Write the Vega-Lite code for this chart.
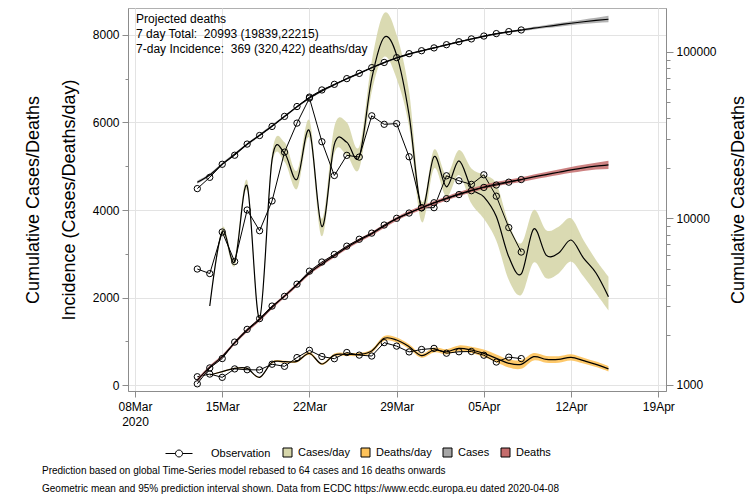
{
  "$schema": "https://vega.github.io/schema/vega-lite/v6.json",
  "width": 538,
  "height": 383,
  "autosize": "none",
  "padding": {"left": 128, "top": 8, "right": 83, "bottom": 103},
  "background": "white",
  "config": {
    "font": "Liberation Sans",
    "view": {"stroke": "#b0b0b0", "strokeWidth": 1},
    "axis": {
      "labelFont": "Liberation Sans", "titleFont": "Liberation Sans",
      "labelFontSize": 12, "labelColor": "black", "titleColor": "black",
      "titleFontWeight": "normal", "domainColor": "#8c8c8c", "tickColor": "#8c8c8c",
      "gridColor": "#e3e3e3"
    },
    "legend": {"labelFont": "Liberation Sans", "labelFontSize": 11, "labelColor": "black"}
  },
  "title": {
    "text": [
      "Prediction based on global Time-Series model rebased to 64 cases and 16 deaths onwards",
      "Geometric mean and 95% prediction interval shown. Data from ECDC https://www.ecdc.europa.eu dated 2020-04-08"
    ],
    "orient": "bottom", "anchor": "start", "frame": "group",
    "font": "Liberation Sans", "fontSize": 10, "fontWeight": "normal",
    "lineHeight": 18, "dx": -86, "offset": 6, "color": "black"
  },
  "datasets": {
    "obs_daily": [
      {"d":"2020-03-13T00:00","s":"Cases/day","v":2651},{"d":"2020-03-14T00:00","s":"Cases/day","v":2547},{"d":"2020-03-15T00:00","s":"Cases/day","v":3497},{"d":"2020-03-16T00:00","s":"Cases/day","v":2823},{"d":"2020-03-17T00:00","s":"Cases/day","v":4000},{"d":"2020-03-18T00:00","s":"Cases/day","v":3526},{"d":"2020-03-19T00:00","s":"Cases/day","v":4207},{"d":"2020-03-20T00:00","s":"Cases/day","v":5322},{"d":"2020-03-21T00:00","s":"Cases/day","v":5986},{"d":"2020-03-22T00:00","s":"Cases/day","v":6557},{"d":"2020-03-23T00:00","s":"Cases/day","v":5560},{"d":"2020-03-24T00:00","s":"Cases/day","v":4789},{"d":"2020-03-25T00:00","s":"Cases/day","v":5249},{"d":"2020-03-26T00:00","s":"Cases/day","v":5210},{"d":"2020-03-27T00:00","s":"Cases/day","v":6153},{"d":"2020-03-28T00:00","s":"Cases/day","v":5959},{"d":"2020-03-29T00:00","s":"Cases/day","v":5974},{"d":"2020-03-30T00:00","s":"Cases/day","v":5217},{"d":"2020-03-31T00:00","s":"Cases/day","v":4050},{"d":"2020-04-01T00:00","s":"Cases/day","v":4053},{"d":"2020-04-02T00:00","s":"Cases/day","v":4782},{"d":"2020-04-03T00:00","s":"Cases/day","v":4668},{"d":"2020-04-04T00:00","s":"Cases/day","v":4585},{"d":"2020-04-05T00:00","s":"Cases/day","v":4805},{"d":"2020-04-06T00:00","s":"Cases/day","v":4316},{"d":"2020-04-07T00:00","s":"Cases/day","v":3599},{"d":"2020-04-08T00:00","s":"Cases/day","v":3039},
      {"d":"2020-03-13T00:00","s":"Deaths/day","v":189},{"d":"2020-03-14T00:00","s":"Deaths/day","v":250},{"d":"2020-03-15T00:00","s":"Deaths/day","v":175},{"d":"2020-03-16T00:00","s":"Deaths/day","v":368},{"d":"2020-03-17T00:00","s":"Deaths/day","v":349},{"d":"2020-03-18T00:00","s":"Deaths/day","v":345},{"d":"2020-03-19T00:00","s":"Deaths/day","v":475},{"d":"2020-03-20T00:00","s":"Deaths/day","v":427},{"d":"2020-03-21T00:00","s":"Deaths/day","v":627},{"d":"2020-03-22T00:00","s":"Deaths/day","v":793},{"d":"2020-03-23T00:00","s":"Deaths/day","v":651},{"d":"2020-03-24T00:00","s":"Deaths/day","v":601},{"d":"2020-03-25T00:00","s":"Deaths/day","v":743},{"d":"2020-03-26T00:00","s":"Deaths/day","v":683},{"d":"2020-03-27T00:00","s":"Deaths/day","v":662},{"d":"2020-03-28T00:00","s":"Deaths/day","v":969},{"d":"2020-03-29T00:00","s":"Deaths/day","v":889},{"d":"2020-03-30T00:00","s":"Deaths/day","v":756},{"d":"2020-03-31T00:00","s":"Deaths/day","v":812},{"d":"2020-04-01T00:00","s":"Deaths/day","v":837},{"d":"2020-04-02T00:00","s":"Deaths/day","v":727},{"d":"2020-04-03T00:00","s":"Deaths/day","v":760},{"d":"2020-04-04T00:00","s":"Deaths/day","v":766},{"d":"2020-04-05T00:00","s":"Deaths/day","v":681},{"d":"2020-04-06T00:00","s":"Deaths/day","v":525},{"d":"2020-04-07T00:00","s":"Deaths/day","v":636},{"d":"2020-04-08T00:00","s":"Deaths/day","v":604}
    ],
    "obs_cum": [
      {"d":"2020-03-13T00:00","s":"Cases","v":15113},{"d":"2020-03-14T00:00","s":"Cases","v":17660},{"d":"2020-03-15T00:00","s":"Cases","v":21157},{"d":"2020-03-16T00:00","s":"Cases","v":23980},{"d":"2020-03-17T00:00","s":"Cases","v":27980},{"d":"2020-03-18T00:00","s":"Cases","v":31506},{"d":"2020-03-19T00:00","s":"Cases","v":35713},{"d":"2020-03-20T00:00","s":"Cases","v":41035},{"d":"2020-03-21T00:00","s":"Cases","v":47021},{"d":"2020-03-22T00:00","s":"Cases","v":53578},{"d":"2020-03-23T00:00","s":"Cases","v":59138},{"d":"2020-03-24T00:00","s":"Cases","v":63927},{"d":"2020-03-25T00:00","s":"Cases","v":69176},{"d":"2020-03-26T00:00","s":"Cases","v":74386},{"d":"2020-03-27T00:00","s":"Cases","v":80539},{"d":"2020-03-28T00:00","s":"Cases","v":86498},{"d":"2020-03-29T00:00","s":"Cases","v":92472},{"d":"2020-03-30T00:00","s":"Cases","v":97689},{"d":"2020-03-31T00:00","s":"Cases","v":101739},{"d":"2020-04-01T00:00","s":"Cases","v":105792},{"d":"2020-04-02T00:00","s":"Cases","v":110574},{"d":"2020-04-03T00:00","s":"Cases","v":115242},{"d":"2020-04-04T00:00","s":"Cases","v":119827},{"d":"2020-04-05T00:00","s":"Cases","v":124632},{"d":"2020-04-06T00:00","s":"Cases","v":128948},{"d":"2020-04-07T00:00","s":"Cases","v":132547},{"d":"2020-04-08T00:00","s":"Cases","v":135586},
      {"d":"2020-03-13T00:00","s":"Deaths","v":1016},{"d":"2020-03-14T00:00","s":"Deaths","v":1266},{"d":"2020-03-15T00:00","s":"Deaths","v":1441},{"d":"2020-03-16T00:00","s":"Deaths","v":1809},{"d":"2020-03-17T00:00","s":"Deaths","v":2158},{"d":"2020-03-18T00:00","s":"Deaths","v":2503},{"d":"2020-03-19T00:00","s":"Deaths","v":2978},{"d":"2020-03-20T00:00","s":"Deaths","v":3405},{"d":"2020-03-21T00:00","s":"Deaths","v":4032},{"d":"2020-03-22T00:00","s":"Deaths","v":4825},{"d":"2020-03-23T00:00","s":"Deaths","v":5476},{"d":"2020-03-24T00:00","s":"Deaths","v":6077},{"d":"2020-03-25T00:00","s":"Deaths","v":6820},{"d":"2020-03-26T00:00","s":"Deaths","v":7503},{"d":"2020-03-27T00:00","s":"Deaths","v":8165},{"d":"2020-03-28T00:00","s":"Deaths","v":9134},{"d":"2020-03-29T00:00","s":"Deaths","v":10023},{"d":"2020-03-30T00:00","s":"Deaths","v":10779},{"d":"2020-03-31T00:00","s":"Deaths","v":11591},{"d":"2020-04-01T00:00","s":"Deaths","v":12428},{"d":"2020-04-02T00:00","s":"Deaths","v":13155},{"d":"2020-04-03T00:00","s":"Deaths","v":13915},{"d":"2020-04-04T00:00","s":"Deaths","v":14681},{"d":"2020-04-05T00:00","s":"Deaths","v":15362},{"d":"2020-04-06T00:00","s":"Deaths","v":15887},{"d":"2020-04-07T00:00","s":"Deaths","v":16523},{"d":"2020-04-08T00:00","s":"Deaths","v":17127}
    ],
    "mod_daily": [
      {"d":"2020-03-14T00:00","s":"Cases/day","m":1806,"lo":1780,"hi":1830},{"d":"2020-03-15T00:00","s":"Cases/day","m":3504,"lo":3420,"hi":3600},{"d":"2020-03-16T00:00","s":"Cases/day","m":2819,"lo":2720,"hi":2900},{"d":"2020-03-17T00:00","s":"Cases/day","m":4549,"lo":4450,"hi":4680},{"d":"2020-03-18T00:00","s":"Cases/day","m":1530,"lo":1480,"hi":1580},{"d":"2020-03-19T00:00","s":"Cases/day","m":5150,"lo":5020,"hi":5300},{"d":"2020-03-20T00:00","s":"Cases/day","m":5300,"lo":5100,"hi":5550},{"d":"2020-03-21T00:00","s":"Cases/day","m":4700,"lo":4480,"hi":4900},{"d":"2020-03-22T00:00","s":"Cases/day","m":5813,"lo":5650,"hi":6050},{"d":"2020-03-23T00:00","s":"Cases/day","m":3620,"lo":3400,"hi":3800},{"d":"2020-03-24T00:00","s":"Cases/day","m":5500,"lo":5300,"hi":5900},{"d":"2020-03-25T00:00","s":"Cases/day","m":5550,"lo":5250,"hi":6000},{"d":"2020-03-26T00:00","s":"Cases/day","m":5220,"lo":4950,"hi":5450},{"d":"2020-03-27T00:00","s":"Cases/day","m":7000,"lo":6700,"hi":7400},{"d":"2020-03-28T00:00","s":"Cases/day","m":7947,"lo":7500,"hi":8500},{"d":"2020-03-29T00:00","s":"Cases/day","m":7540,"lo":7000,"hi":8000},{"d":"2020-03-30T00:00","s":"Cases/day","m":6170,"lo":5900,"hi":6700},{"d":"2020-03-31T00:00","s":"Cases/day","m":4040,"lo":3730,"hi":4200},{"d":"2020-04-01T00:00","s":"Cases/day","m":5220,"lo":4950,"hi":5380},{"d":"2020-04-02T00:00","s":"Cases/day","m":4530,"lo":4300,"hi":4800},{"d":"2020-04-03T00:00","s":"Cases/day","m":5125,"lo":4800,"hi":5370},{"d":"2020-04-04T00:00","s":"Cases/day","m":4500,"lo":4150,"hi":4950},{"d":"2020-04-05T00:00","s":"Cases/day","m":4300,"lo":3800,"hi":4800},{"d":"2020-04-06T00:00","s":"Cases/day","m":3850,"lo":3300,"hi":4600},{"d":"2020-04-07T00:00","s":"Cases/day","m":2930,"lo":2400,"hi":3700},{"d":"2020-04-08T00:00","s":"Cases/day","m":2540,"lo":2060,"hi":3240},{"d":"2020-04-09T00:00","s":"Cases/day","m":3566,"lo":2800,"hi":4000},{"d":"2020-04-10T00:00","s":"Cases/day","m":2970,"lo":2440,"hi":3540},{"d":"2020-04-11T00:00","s":"Cases/day","m":3017,"lo":2550,"hi":3620},{"d":"2020-04-12T00:00","s":"Cases/day","m":3314,"lo":2820,"hi":3810},{"d":"2020-04-13T00:00","s":"Cases/day","m":2900,"lo":2480,"hi":3310},{"d":"2020-04-14T00:00","s":"Cases/day","m":2560,"lo":2100,"hi":2860},{"d":"2020-04-15T00:00","s":"Cases/day","m":2018,"lo":1710,"hi":2480},
      {"d":"2020-03-14T00:00","s":"Deaths/day","m":228,"lo":215,"hi":240},{"d":"2020-03-15T00:00","s":"Deaths/day","m":305,"lo":290,"hi":320},{"d":"2020-03-16T00:00","s":"Deaths/day","m":381,"lo":365,"hi":395},{"d":"2020-03-17T00:00","s":"Deaths/day","m":381,"lo":365,"hi":395},{"d":"2020-03-18T00:00","s":"Deaths/day","m":174,"lo":160,"hi":190},{"d":"2020-03-19T00:00","s":"Deaths/day","m":518,"lo":500,"hi":540},{"d":"2020-03-20T00:00","s":"Deaths/day","m":533,"lo":510,"hi":555},{"d":"2020-03-21T00:00","s":"Deaths/day","m":540,"lo":515,"hi":565},{"d":"2020-03-22T00:00","s":"Deaths/day","m":720,"lo":690,"hi":755},{"d":"2020-03-23T00:00","s":"Deaths/day","m":480,"lo":455,"hi":505},{"d":"2020-03-24T00:00","s":"Deaths/day","m":686,"lo":655,"hi":720},{"d":"2020-03-25T00:00","s":"Deaths/day","m":700,"lo":665,"hi":735},{"d":"2020-03-26T00:00","s":"Deaths/day","m":700,"lo":665,"hi":735},{"d":"2020-03-27T00:00","s":"Deaths/day","m":780,"lo":740,"hi":820},{"d":"2020-03-28T00:00","s":"Deaths/day","m":1067,"lo":1010,"hi":1120},{"d":"2020-03-29T00:00","s":"Deaths/day","m":1029,"lo":975,"hi":1085},{"d":"2020-03-30T00:00","s":"Deaths/day","m":876,"lo":825,"hi":930},{"d":"2020-03-31T00:00","s":"Deaths/day","m":670,"lo":625,"hi":715},{"d":"2020-04-01T00:00","s":"Deaths/day","m":800,"lo":745,"hi":855},{"d":"2020-04-02T00:00","s":"Deaths/day","m":760,"lo":700,"hi":820},{"d":"2020-04-03T00:00","s":"Deaths/day","m":838,"lo":770,"hi":905},{"d":"2020-04-04T00:00","s":"Deaths/day","m":800,"lo":730,"hi":875},{"d":"2020-04-05T00:00","s":"Deaths/day","m":724,"lo":640,"hi":810},{"d":"2020-04-06T00:00","s":"Deaths/day","m":610,"lo":520,"hi":700},{"d":"2020-04-07T00:00","s":"Deaths/day","m":496,"lo":400,"hi":590},{"d":"2020-04-08T00:00","s":"Deaths/day","m":473,"lo":370,"hi":570},{"d":"2020-04-09T00:00","s":"Deaths/day","m":647,"lo":560,"hi":730},{"d":"2020-04-10T00:00","s":"Deaths/day","m":587,"lo":510,"hi":665},{"d":"2020-04-11T00:00","s":"Deaths/day","m":587,"lo":510,"hi":660},{"d":"2020-04-12T00:00","s":"Deaths/day","m":633,"lo":560,"hi":705},{"d":"2020-04-13T00:00","s":"Deaths/day","m":556,"lo":490,"hi":625},{"d":"2020-04-14T00:00","s":"Deaths/day","m":473,"lo":410,"hi":535},{"d":"2020-04-15T00:00","s":"Deaths/day","m":370,"lo":310,"hi":430}
    ],
    "mod_cum": [
      {"d":"2020-03-13T00:00","s":"Cases","m":16500,"lo":16150,"hi":16850},{"d":"2020-03-14T00:00","s":"Cases","m":18250,"lo":17900,"hi":18600},{"d":"2020-03-15T00:00","s":"Cases","m":21200,"lo":20800,"hi":21600},{"d":"2020-03-16T00:00","s":"Cases","m":24300,"lo":23850,"hi":24750},{"d":"2020-03-17T00:00","s":"Cases","m":27900,"lo":27400,"hi":28400},{"d":"2020-03-18T00:00","s":"Cases","m":31600,"lo":31050,"hi":32150},{"d":"2020-03-19T00:00","s":"Cases","m":35900,"lo":35300,"hi":36500},{"d":"2020-03-20T00:00","s":"Cases","m":41000,"lo":40350,"hi":41650},{"d":"2020-03-21T00:00","s":"Cases","m":46800,"lo":46100,"hi":47500},{"d":"2020-03-22T00:00","s":"Cases","m":52900,"lo":52100,"hi":53700},{"d":"2020-03-23T00:00","s":"Cases","m":58400,"lo":57550,"hi":59250},{"d":"2020-03-24T00:00","s":"Cases","m":63600,"lo":62700,"hi":64500},{"d":"2020-03-25T00:00","s":"Cases","m":69000,"lo":68050,"hi":69950},{"d":"2020-03-26T00:00","s":"Cases","m":74500,"lo":73500,"hi":75500},{"d":"2020-03-27T00:00","s":"Cases","m":80400,"lo":79300,"hi":81500},{"d":"2020-03-28T00:00","s":"Cases","m":86300,"lo":85150,"hi":87450},{"d":"2020-03-29T00:00","s":"Cases","m":92000,"lo":90800,"hi":93200},{"d":"2020-03-30T00:00","s":"Cases","m":97100,"lo":95850,"hi":98350},{"d":"2020-03-31T00:00","s":"Cases","m":101500,"lo":100200,"hi":102800},{"d":"2020-04-01T00:00","s":"Cases","m":105800,"lo":104450,"hi":107150},{"d":"2020-04-02T00:00","s":"Cases","m":110400,"lo":109000,"hi":111800},{"d":"2020-04-03T00:00","s":"Cases","m":115000,"lo":113550,"hi":116450},{"d":"2020-04-04T00:00","s":"Cases","m":119600,"lo":118100,"hi":121100},{"d":"2020-04-05T00:00","s":"Cases","m":124100,"lo":122550,"hi":125650},{"d":"2020-04-06T00:00","s":"Cases","m":128300,"lo":126700,"hi":129900},{"d":"2020-04-07T00:00","s":"Cases","m":132000,"lo":130350,"hi":133650},{"d":"2020-04-08T00:00","s":"Cases","m":135200,"lo":133200,"hi":137200},{"d":"2020-04-09T00:00","s":"Cases","m":139000,"lo":136500,"hi":141600},{"d":"2020-04-10T00:00","s":"Cases","m":142200,"lo":139200,"hi":145300},{"d":"2020-04-11T00:00","s":"Cases","m":145400,"lo":141800,"hi":149100},{"d":"2020-04-12T00:00","s":"Cases","m":148800,"lo":144600,"hi":153000},{"d":"2020-04-13T00:00","s":"Cases","m":151900,"lo":147000,"hi":156900},{"d":"2020-04-14T00:00","s":"Cases","m":154700,"lo":149200,"hi":160300},{"d":"2020-04-15T00:00","s":"Cases","m":157300,"lo":150700,"hi":165000},
      {"d":"2020-03-13T00:00","s":"Deaths","m":1070,"lo":1045,"hi":1095},{"d":"2020-03-14T00:00","s":"Deaths","m":1280,"lo":1250,"hi":1310},{"d":"2020-03-15T00:00","s":"Deaths","m":1480,"lo":1445,"hi":1515},{"d":"2020-03-16T00:00","s":"Deaths","m":1790,"lo":1748,"hi":1832},{"d":"2020-03-17T00:00","s":"Deaths","m":2130,"lo":2080,"hi":2180},{"d":"2020-03-18T00:00","s":"Deaths","m":2470,"lo":2410,"hi":2530},{"d":"2020-03-19T00:00","s":"Deaths","m":2930,"lo":2860,"hi":3000},{"d":"2020-03-20T00:00","s":"Deaths","m":3420,"lo":3340,"hi":3500},{"d":"2020-03-21T00:00","s":"Deaths","m":4000,"lo":3905,"hi":4095},{"d":"2020-03-22T00:00","s":"Deaths","m":4700,"lo":4590,"hi":4810},{"d":"2020-03-23T00:00","s":"Deaths","m":5330,"lo":5200,"hi":5460},{"d":"2020-03-24T00:00","s":"Deaths","m":5980,"lo":5835,"hi":6125},{"d":"2020-03-25T00:00","s":"Deaths","m":6700,"lo":6535,"hi":6865},{"d":"2020-03-26T00:00","s":"Deaths","m":7400,"lo":7220,"hi":7580},{"d":"2020-03-27T00:00","s":"Deaths","m":8100,"lo":7900,"hi":8300},{"d":"2020-03-28T00:00","s":"Deaths","m":9000,"lo":8780,"hi":9220},{"d":"2020-03-29T00:00","s":"Deaths","m":9950,"lo":9700,"hi":10200},{"d":"2020-03-30T00:00","s":"Deaths","m":10800,"lo":10520,"hi":11080},{"d":"2020-03-31T00:00","s":"Deaths","m":11600,"lo":11290,"hi":11910},{"d":"2020-04-01T00:00","s":"Deaths","m":12400,"lo":12060,"hi":12740},{"d":"2020-04-02T00:00","s":"Deaths","m":13200,"lo":12830,"hi":13570},{"d":"2020-04-03T00:00","s":"Deaths","m":14000,"lo":13600,"hi":14400},{"d":"2020-04-04T00:00","s":"Deaths","m":14760,"lo":14330,"hi":15190},{"d":"2020-04-05T00:00","s":"Deaths","m":15460,"lo":15000,"hi":15920},{"d":"2020-04-06T00:00","s":"Deaths","m":16100,"lo":15610,"hi":16590},{"d":"2020-04-07T00:00","s":"Deaths","m":16620,"lo":16100,"hi":17140},{"d":"2020-04-08T00:00","s":"Deaths","m":17120,"lo":16570,"hi":17680},{"d":"2020-04-09T00:00","s":"Deaths","m":17770,"lo":17170,"hi":18380},{"d":"2020-04-10T00:00","s":"Deaths","m":18360,"lo":17700,"hi":19030},{"d":"2020-04-11T00:00","s":"Deaths","m":18950,"lo":18230,"hi":19690},{"d":"2020-04-12T00:00","s":"Deaths","m":19580,"lo":18790,"hi":20390},{"d":"2020-04-13T00:00","s":"Deaths","m":20140,"lo":19280,"hi":21020},{"d":"2020-04-14T00:00","s":"Deaths","m":20610,"lo":19680,"hi":21590},{"d":"2020-04-15T00:00","s":"Deaths","m":20990,"lo":19839,"hi":22215}
    ]
  },
  "layer": [
    {
      "resolve": {"axis": {"y": "independent"}},
      "layer": [
        {
          "data": {"name": "mod_daily"},
          "mark": {"type": "area", "interpolate": "cardinal", "opacity": 0.9},
          "encoding": {
            "x": {
              "field": "d", "type": "temporal",
              "scale": {"domain": [{"year":2020,"month":3,"date":7,"hours":10,"minutes":30},{"year":2020,"month":4,"date":19,"hours":14,"minutes":50}]},
              "axis": {
                "title": null,
                "values": [{"year":2020,"month":3,"date":8},{"year":2020,"month":3,"date":15},{"year":2020,"month":3,"date":22},{"year":2020,"month":3,"date":29},{"year":2020,"month":4,"date":5},{"year":2020,"month":4,"date":12},{"year":2020,"month":4,"date":19}],
                "format": "%d%b",
                "labelExpr": "(month(datum.value) == 2 && date(datum.value) == 8) ? [timeFormat(datum.value, '%d%b'), '2020'] : timeFormat(datum.value, '%d%b')",
                "labelLineHeight": 15, "labelOverlap": false, "labelFlush": false,
                "grid": true, "tickSize": 6, "labelPadding": 4
              }
            },
            "y": {
              "field": "lo", "type": "quantitative",
              "scale": {"domain": [-137, 8617], "nice": false, "zero": false},
              "axis": {
                "orient": "left",
                "values": [0,2000,4000,6000,8000],
                "format": "d", "tickSize": 6, "grid": true, "labelPadding": 3,
                "title": ["Cumulative Cases/Deaths", "Incidence (Cases/Deaths/day)"],
                "titleFontSize": 18, "titleLineHeight": 36, "titlePadding": 14
              }
            },
            "y2": {"field": "hi"},
            "color": {
              "field": "s", "type": "nominal",
              "scale": {"domain": ["Cases/day","Deaths/day","Cases","Deaths"], "range": ["#d6d6aa","#fdc25a","#a6a6a6","#c46c6c"]},
              "legend": {
                "orient": "none", "legendX": 154, "legendY": 439, "direction": "horizontal",
                "title": null, "symbolType": "square", "symbolSize": 81, "symbolStrokeColor": "black", "symbolStrokeWidth": 1, "symbolOpacity": 1,
                "labelOffset": 5, "columnPadding": 9, "labelFontSize": 11
              }
            }
          }
        },
        {
          "data": {"name": "mod_daily"},
          "mark": {"type": "line", "interpolate": "cardinal", "color": "black", "strokeWidth": 1.2},
          "encoding": {
            "x": {"field": "d", "type": "temporal"},
            "y": {
              "field": "m", "type": "quantitative",
              "scale": {"domain": [-137, 8617], "nice": false, "zero": false},
              "axis": {"orient": "left", "values": [1000,3000,5000,7000], "labels": false, "domain": false, "grid": false, "tickSize": 3, "title": null}
            },
            "detail": {"field": "s"}
          }
        },
        {
          "data": {"name": "obs_daily"},
          "mark": {"type": "line", "color": "black", "strokeWidth": 1},
          "encoding": {
            "x": {"field": "d", "type": "temporal"},
            "y": {"field": "v", "type": "quantitative", "scale": {"domain": [-137, 8617], "nice": false, "zero": false}, "axis": null},
            "detail": {"field": "s"}
          }
        },
        {
          "data": {"name": "obs_daily"},
          "mark": {"type": "point", "shape": "circle", "filled": false, "color": "black", "strokeWidth": 1, "size": 40},
          "encoding": {
            "x": {"field": "d", "type": "temporal"},
            "y": {"field": "v", "type": "quantitative", "scale": {"domain": [-137, 8617], "nice": false, "zero": false}, "axis": null},
            "opacity": {
              "datum": "Observation", "type": "nominal",
              "scale": {"domain": ["Observation"], "range": [1]},
              "legend": {
                "orient": "none", "legendX": 37, "legendY": 431.5, "title": null,
                "symbolType": "M-1,0H-0.26M0.26,0H1M0.26,0A0.26,0.26 0 1,1 -0.26,0A0.26,0.26 0 1,1 0.26,0",
                "symbolSize": 729, "symbolStrokeColor": "black", "symbolFillColor": "white", "symbolStrokeWidth": 1,
                "labelOffset": 18, "labelFontSize": 11
              }
            }
          }
        },
        {
          "data": {"values": [{"note": "Projected deaths\n7 day Total:\u00a0 20993 (19839,22215)\n7-day Incidence:\u00a0 369 (320,422) deaths/day"}]},
          "mark": {"type": "text", "align": "left", "baseline": "top", "fontSize": 12, "lineHeight": 15, "font": "Liberation Sans", "color": "black", "lineBreak": "\n"},
          "encoding": {
            "x": {"datum": {"year":2020,"month":3,"date":8,"hours":2}, "type": "temporal"},
            "y": {"datum": 8490, "type": "quantitative", "axis": {"orient": "left", "labels": false, "ticks": false, "domain": false, "grid": false, "title": null}},
            "text": {"field": "note", "type": "nominal"}
          }
        }
      ]
    },
    {
      "resolve": {"axis": {"y": "independent"}},
      "layer": [
        {
          "data": {"name": "mod_cum"},
          "mark": {"type": "area", "interpolate": "monotone", "opacity": 0.85},
          "encoding": {
            "x": {"field": "d", "type": "temporal"},
            "y": {
              "field": "lo", "type": "quantitative",
              "scale": {"type": "log", "domain": [920, 183700], "nice": false},
              "axis": {
                "orient": "right",
                "values": [1000,10000,100000],
                "format": "d", "tickSize": 7, "grid": false, "labelPadding": 3,
                "title": "Cumulative Cases/Deaths", "titleFontSize": 18, "titleAngle": 270, "titlePadding": 31
              }
            },
            "y2": {"field": "hi"},
            "color": {
              "field": "s", "type": "nominal",
              "scale": {"domain": ["Cases/day","Deaths/day","Cases","Deaths"], "range": ["#d6d6aa","#fdc25a","#a6a6a6","#c46c6c"]},
              "legend": {
                "orient": "none", "legendX": 154, "legendY": 439, "direction": "horizontal",
                "title": null, "symbolType": "square", "symbolSize": 81, "symbolStrokeColor": "black", "symbolStrokeWidth": 1, "symbolOpacity": 1,
                "labelOffset": 5, "columnPadding": 9, "labelFontSize": 11
              }
            }
          }
        },
        {
          "data": {"name": "mod_cum"},
          "mark": {"type": "line", "interpolate": "monotone", "color": "black", "strokeWidth": 1.2},
          "encoding": {
            "x": {"field": "d", "type": "temporal"},
            "y": {
              "field": "m", "type": "quantitative",
              "scale": {"type": "log", "domain": [920, 183700], "nice": false},
              "axis": {"orient": "right", "values": [2000,3000,4000,5000,6000,7000,8000,9000,20000,30000,40000,50000,60000,70000,80000,90000], "labels": false, "domain": false, "grid": false, "tickSize": 4, "title": null}
            },
            "detail": {"field": "s"}
          }
        },
        {
          "data": {"name": "obs_cum"},
          "mark": {"type": "line", "color": "black", "strokeWidth": 1},
          "encoding": {
            "x": {"field": "d", "type": "temporal"},
            "y": {"field": "v", "type": "quantitative", "scale": {"type": "log", "domain": [920, 183700], "nice": false}, "axis": null},
            "detail": {"field": "s"}
          }
        },
        {
          "data": {"name": "obs_cum"},
          "mark": {"type": "point", "shape": "circle", "filled": false, "color": "black", "strokeWidth": 1, "size": 40, "opacity": 1},
          "encoding": {
            "x": {"field": "d", "type": "temporal"},
            "y": {"field": "v", "type": "quantitative", "scale": {"type": "log", "domain": [920, 183700], "nice": false}, "axis": null}
          }
        }
      ]
    }
  ],
  "resolve": {"scale": {"y": "independent"}}
}
